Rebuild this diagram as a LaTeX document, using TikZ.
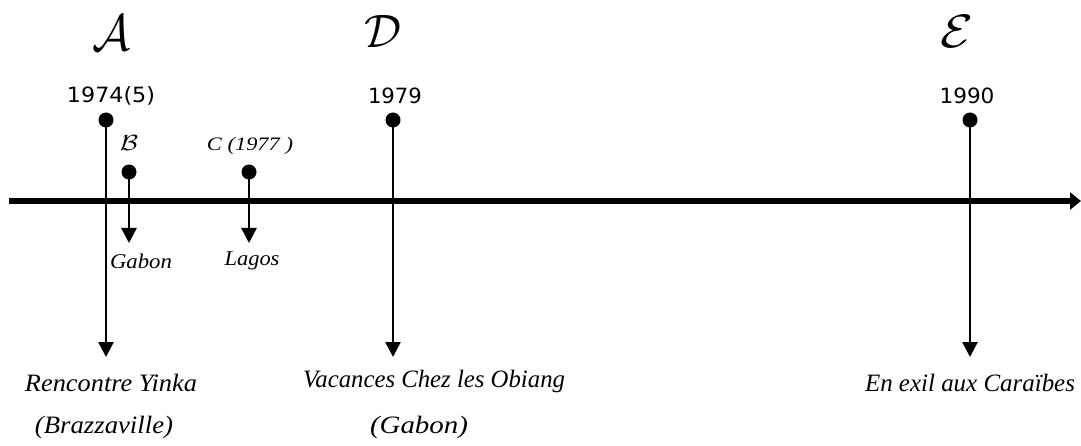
\documentclass[tikz,border=0pt]{standalone}
\usepackage{fontspec}
\usepackage{graphicx}
\usetikzlibrary{arrows.meta}
\newfontfamily\yearfont{DejaVu Sans}
\newfontfamily\labfont{Liberation Serif}
\newcommand\fitw[2]{\resizebox{#1}{\height}{#2}}
\begin{document}
\begin{tikzpicture}[x=1pt,y=-1pt,
  dot/.style={circle,fill=black,inner sep=0pt,minimum size=15pt},
  stem/.style={line width=2.6pt,-{Triangle[width=15pt,length=15pt]}},
  axis/.style={line width=5.5pt,-{Triangle[width=17pt,length=11pt]}},
  year/.style={inner sep=0pt,font=\yearfont\fontsize{21}{24}\selectfont},
  lab/.style={inner sep=0pt,font=\labfont\itshape\fontsize{25}{30}\selectfont},
  small/.style={inner sep=0pt,font=\labfont\itshape\fontsize{21}{26}\selectfont},
  big/.style={inner sep=0pt}]
\useasboundingbox (0,0) rectangle (1081,446);
% axis
\coordinate (ax0) at (9,201);
\coordinate (ax1) at (1081,201);
\draw[axis] (ax0) -- (ax1);
% A
\node[dot] (dA) at (106,120) {};
\coordinate (eA) at (106,357);
\draw[stem] (dA.center) -- (eA);
\node[year] (yA) at (111,96) {\fitw{88pt}{1974(5)}};
\node[big] (lA) at (111,33) {\resizebox{38pt}{35pt}{$\mathcal{A}$}};
\node[lab] (tA1) at (111,383) {\fitw{172pt}{Rencontre Yinka}};
\node[lab] (tA2) at (104,427) {\fitw{138pt}{(Brazzaville)}};
% B
\node[dot] (dB) at (129,172) {};
\coordinate (eB) at (129,243);
\draw[stem] (dB.center) -- (eB);
\node[big] (lB) at (129,143) {\resizebox{18pt}{15pt}{$\mathcal{B}$}};
\node[small] (tB) at (141,261) {\fitw{62pt}{Gabon}};
% C
\node[small,font=\labfont\itshape\fontsize{19}{22}\selectfont] (lC) at (250,146) {\fitw{86pt}{C (1977 )}};
\node[dot] (dC) at (249,172) {};
\coordinate (eC) at (249,243);
\draw[stem] (dC.center) -- (eC);
\node[small] (tC) at (252,261) {\fitw{55pt}{Lagos}};
% D
\node[dot] (dD) at (393,120) {};
\coordinate (eD) at (393,357);
\draw[stem] (dD.center) -- (eD);
\node[year] (yD) at (395,96) {\fitw{54pt}{1979}};
\node[big] (lD) at (383,31) {\resizebox{37pt}{32pt}{$\mathcal{D}$}};
\node[lab] (tD1) at (434,381) {\fitw{262pt}{Vacances Chez les Obiang}};
\node[lab] (tD2) at (419,427) {\fitw{98pt}{(Gabon)}};
% E
\node[dot] (dE) at (970,120) {};
\coordinate (eE) at (970,357);
\draw[stem] (dE.center) -- (eE);
\node[year] (yE) at (967,96) {\fitw{55pt}{1990}};
\node[big] (lE) at (957,31) {\resizebox{33pt}{32pt}{$\mathcal{E}$}};
\node[lab] (tE) at (970,383) {\fitw{210pt}{En exil aux Caraïbes}};
\end{tikzpicture}
\end{document}
